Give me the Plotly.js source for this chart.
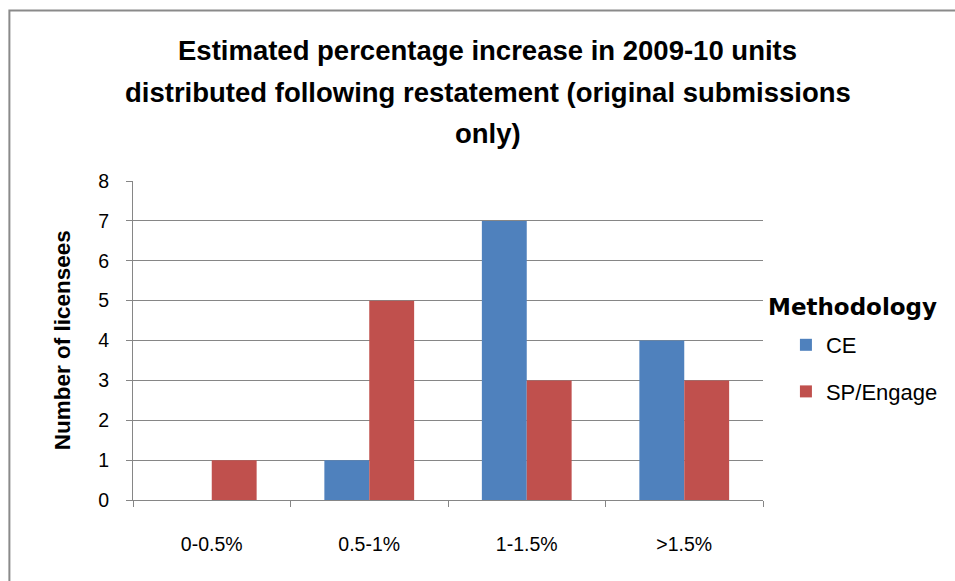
<!DOCTYPE html>
<html>
<head>
<meta charset="utf-8">
<script src="https://cdn.plot.ly/plotly-3.0.1.min.js"></script>
<style>html,body{margin:0;padding:0;background:#fff;}#chart{width:955px;height:581px;}</style>
</head>
<body>
<div id="chart"></div>
<script>
const categories = ["0-0.5%", "0.5-1%", "1-1.5%", ">1.5%"];
const ceValues = [0, 1, 7, 4];
const spValues = [1, 5, 3, 3];
const seriesNames = ["CE", "SP/Engage"];
const yTicks = [0, 1, 2, 3, 4, 5, 6, 7, 8];
const titleLines = ["Estimated percentage increase in 2009-10 units",
                    "distributed following restatement (original submissions",
                    "only)"];

const font = "Liberation Sans, Arial, sans-serif";
const traces = [
  {type: "bar", name: seriesNames[0], x: categories, y: ceValues, marker: {color: "#4F81BD"}, legendgroup: "a"},
  {type: "bar", name: seriesNames[1], x: categories, y: spValues, marker: {color: "#C0504D"}, legendgroup: "b"}
];
// plot area: x 133..765 px, y 181..500 px
const px = v => (v - 133) / 632;
const py = v => (500 - v) / 319;
const annotations = titleLines.map((t, i) => ({
  text: "<b>" + t + "</b>", xref: "paper", yref: "paper", x: px(489), y: py([50, 92, 133][i]),
  xanchor: "center", yanchor: "middle", showarrow: false,
  font: {family: font, size: 27.5, color: "#000"}
}));
annotations.push({
  text: "<b>Number of licensees</b>", xref: "paper", yref: "paper", x: px(62), y: py(340),
  xanchor: "center", yanchor: "middle", textangle: -90, showarrow: false,
  font: {family: font, size: 22.5, color: "#000"}
});
annotations.push({
  text: "<b>Methodology</b>", xref: "paper", yref: "paper", x: px(768), y: py(307),
  xanchor: "left", yanchor: "middle", showarrow: false,
  font: {family: "DejaVu Sans, sans-serif", size: 23, color: "#000"}
});
const layout = {
  width: 955, height: 581,
  margin: {l: 133, r: 190, t: 181, b: 81},
  paper_bgcolor: "#fff", plot_bgcolor: "#fff",
  barmode: "group", bargap: 0.43, bargroupgap: 0,
  xaxis: {
    type: "category", tickson: "boundaries", ticks: "outside", ticklen: 6, tickcolor: "#868686",
    showline: true, linecolor: "#868686", linewidth: 1, showgrid: false, ticklabelstandoff: 27,
    tickfont: {family: font, size: 19.5, color: "#000"}
  },
  yaxis: {
    range: [0, 8], tickvals: yTicks, ticks: "outside", ticklen: 6, tickcolor: "#868686",
    showline: true, linecolor: "#868686", showgrid: true, gridcolor: "#868686", gridwidth: 1,
    zeroline: false, ticklabelstandoff: 13, tickfont: {family: font, size: 19.5, color: "#000"}
  },
  showlegend: true,
  legend: {
    x: px(788), xanchor: "left", y: py(324), yanchor: "top",
    font: {family: font, size: 22, color: "#000"},
    tracegroupgap: 15, traceorder: "grouped"
  },
  annotations: annotations,
  shapes: [{type: "rect", xref: "paper", yref: "paper", x0: px(9), x1: 1.4, y0: -0.3, y1: py(10.5), line: {color: "#8a8a8a", width: 2}}]
};
Plotly.newPlot("chart", traces, layout, {displayModeBar: false, staticPlot: true});
</script>
</body>
</html>
